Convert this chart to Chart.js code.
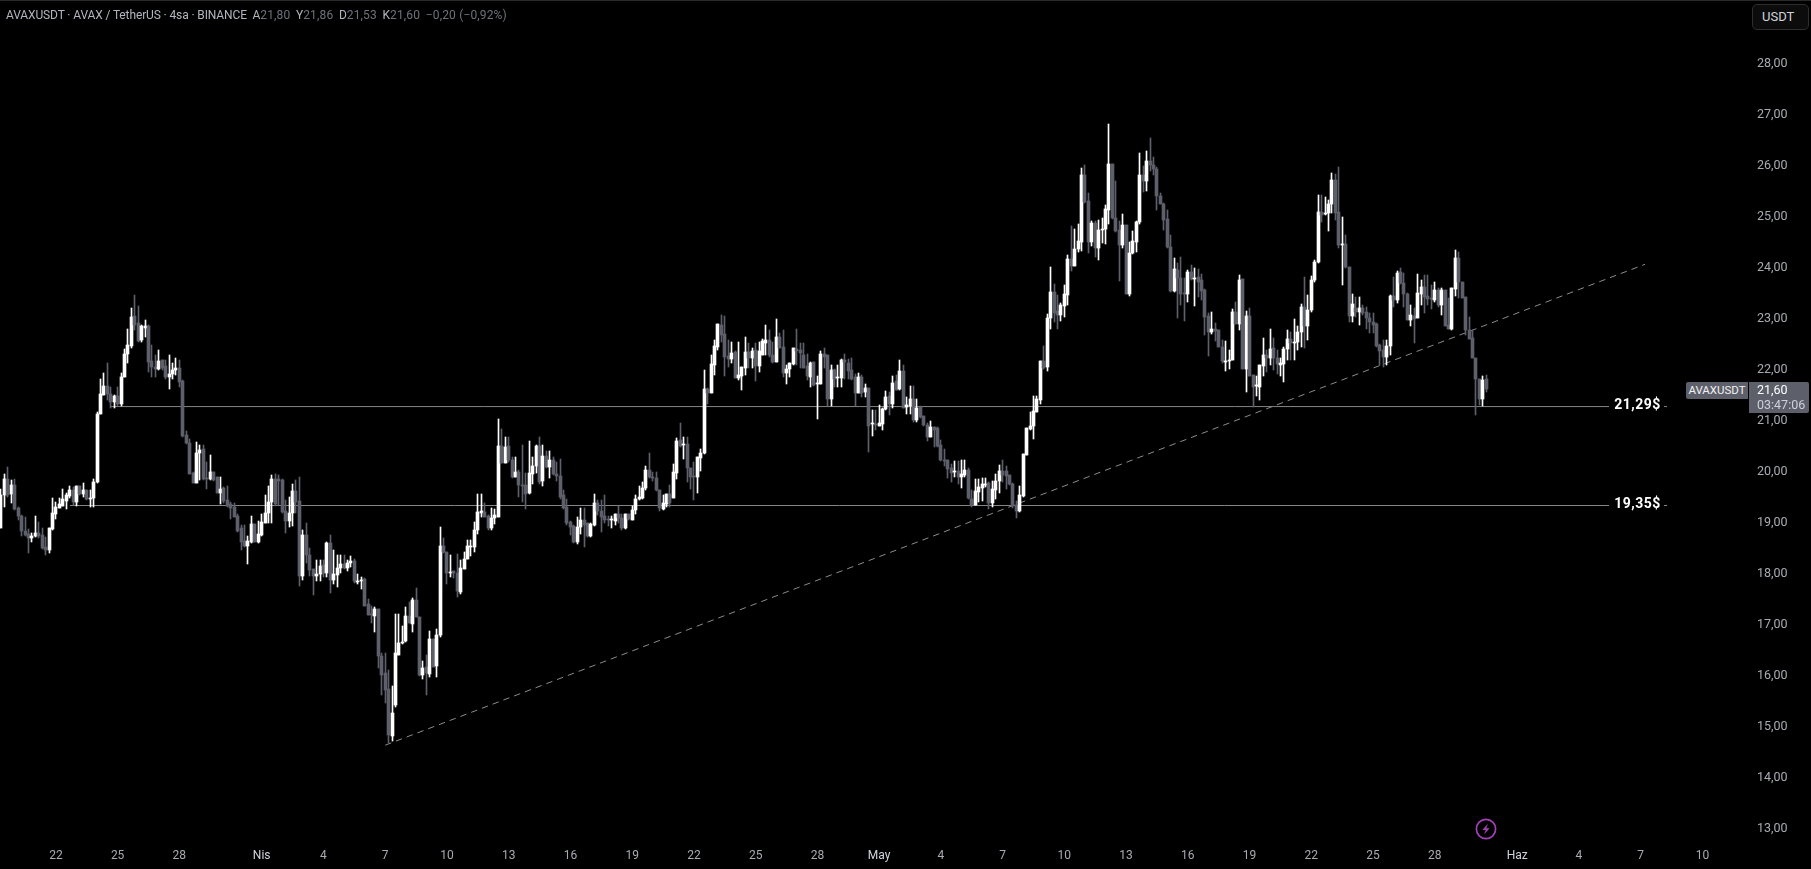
<!DOCTYPE html>
<html><head><meta charset="utf-8"><title>AVAXUSDT</title>
<script src="https://cdn.jsdelivr.net/npm/chart.js@4"></script>
<style>
html,body{margin:0;padding:0;background:#000;width:1811px;height:869px;overflow:hidden;font-family:Roboto,"Open Sans",sans-serif}
#c{position:absolute;left:0;top:0}
.o{position:absolute;white-space:nowrap;box-sizing:border-box}
#topline{left:0;top:0;width:1811px;height:1px;background:#2a2a2a}
#hdr{left:6px;top:7px;font-size:12px;line-height:16px;color:#b2b5be;letter-spacing:-.12px}
#hdr i{font-style:normal;color:#6f727c;letter-spacing:.15px}
#unit{left:1752px;top:4px;width:57px;height:26px;border:1px solid #2e2e2e;border-radius:5px;background:#0c0c0c;color:#d1d4dc;font-size:13px;line-height:24px;padding-left:9px}
#sym{left:1686px;top:382px;width:62px;height:17px;background:#5d606b;color:#f0f0f0;font-size:11.5px;line-height:17px;text-align:center;border-radius:2px 0 0 2px}
#px{left:1749px;top:382px;width:60px;height:31px;background:#5d606b;border-radius:0 2px 2px 0;color:#fff;font-size:12.5px;line-height:15px;padding:0 0 0 8px}
#px span{display:block;color:#cfd1d8;font-size:12.5px}
#bolt{left:1475px;top:818px;width:22px;height:22px}
</style></head><body>
<canvas id="c" width="1811" height="869"></canvas>
<div id="topline" class="o"></div>
<div id="hdr" class="o">AVAXUSDT · AVAX / TetherUS · 4sa · BINANCE &nbsp;A<i>21,80</i> &nbsp;Y<i>21,86</i> &nbsp;D<i>21,53</i> &nbsp;K<i>21,60</i> &nbsp;<i>−0,20 (−0,92%)</i></div>
<div id="unit" class="o">USDT</div>
<div id="sym" class="o">AVAXUSDT</div>
<div id="px" class="o">21,60<span>03:47:06</span></div>
<svg id="bolt" class="o" viewBox="0 0 22 22"><circle cx="11" cy="11" r="9.6" fill="none" stroke="#a63fba" stroke-width="1.7"/><path d="M12.9 5.6 7.4 12h3.3l-1.6 4.6 5.5-6.4h-3.3z" fill="#a63fba"/></svg>
<script>
const opens=[18.87,19.51,19.82,19.53,19.71,19.26,19.10,18.81,18.75,18.68,
18.72,18.77,18.73,18.50,18.44,18.84,19.15,19.27,19.31,19.40,
19.50,19.62,19.37,19.69,19.53,19.61,19.44,19.46,19.78,21.10,
21.47,21.66,21.49,21.34,21.46,21.30,21.82,22.29,22.44,23.02,
22.88,22.55,22.80,22.83,22.14,22.02,21.99,22.16,22.04,21.83,
21.89,21.97,22.00,21.75,20.69,20.53,19.95,19.76,20.33,20.42,
19.83,19.82,19.97,19.86,19.55,19.65,19.42,19.34,19.29,19.10,
18.86,18.61,18.51,18.60,18.95,18.60,18.73,18.97,19.17,19.37,
19.83,19.83,19.81,19.20,19.01,19.17,19.59,19.40,17.93,18.74,
18.34,18.06,17.92,17.97,18.14,17.99,18.57,17.85,17.95,18.08,
18.16,18.08,18.18,18.22,17.81,17.82,17.86,17.37,17.18,17.15,
17.28,16.36,16.02,15.72,14.79,15.40,16.38,16.61,16.66,17.14,
16.99,17.46,17.13,15.99,16.15,16.01,16.70,16.16,16.77,18.51,
18.40,17.99,18.03,17.99,17.62,18.06,18.26,18.50,18.50,18.82,
19.17,19.19,19.10,18.86,19.06,19.09,20.48,20.15,20.48,20.21,
19.86,19.97,19.72,19.71,19.55,19.93,20.08,20.48,19.80,20.28,
20.07,20.21,19.93,19.89,19.52,19.29,18.99,18.91,18.60,18.88,
19.02,18.96,18.71,18.93,19.35,19.20,19.10,19.04,19.02,19.01,
19.15,19.06,18.86,19.14,19.02,19.22,19.43,19.46,19.65,20.00,
19.87,19.85,19.61,19.25,19.34,19.53,19.46,19.95,20.59,20.50,
20.51,20.05,19.87,19.87,20.25,20.34,21.59,21.51,22.06,22.42,
22.85,22.67,22.24,22.18,22.32,21.81,21.85,22.00,22.32,22.20,
22.36,22.05,22.27,22.49,22.55,22.27,22.13,22.62,22.41,21.91,
21.99,22.08,22.38,22.36,22.26,22.05,21.82,22.12,21.69,21.70,
22.28,22.26,21.40,21.97,21.81,21.81,22.16,22.11,21.97,21.82,
21.52,21.83,21.54,21.61,20.90,20.91,20.87,20.90,21.20,21.45,
21.30,21.75,21.60,21.95,21.25,21.26,21.40,20.99,21.25,21.06,
20.89,20.66,20.85,20.82,20.49,20.21,20.20,20.04,19.96,19.99,
19.86,19.91,20.00,19.44,19.32,19.57,19.66,19.71,19.75,19.36,
19.61,19.79,19.99,19.99,19.90,19.74,19.32,19.20,19.49,20.30,
20.81,20.87,21.15,21.38,22.15,22.03,22.98,23.50,23.12,23.04,
23.22,23.44,24.14,24.01,24.34,24.48,25.79,25.28,24.48,24.85,
24.35,24.71,24.74,25.10,26.00,24.94,24.71,24.42,24.81,23.46,
24.27,24.47,24.86,25.79,25.67,26.07,25.99,25.91,25.37,25.23,
24.92,24.37,23.52,23.93,23.77,23.48,23.46,23.88,23.76,23.79,
23.73,23.54,23.03,22.72,22.78,22.75,22.42,22.13,22.14,22.16,
23.11,22.87,23.75,21.99,23.03,21.86,21.65,21.64,22.04,22.26,
22.21,22.39,22.21,22.07,22.08,22.37,22.57,22.50,22.51,22.72,
23.20,22.82,23.14,23.74,24.09,25.06,25.02,25.04,25.22,25.70,
25.06,24.42,24.43,23.98,23.03,23.18,23.10,23.19,23.10,22.99,
22.91,22.87,22.46,22.36,22.23,22.44,23.42,23.33,23.88,23.67,
23.45,22.95,23.03,22.99,23.46,23.59,23.42,23.37,23.34,23.53,
23.24,23.53,22.85,22.77,23.55,24.16,23.70,23.39,22.76,22.59,
22.21,21.80,21.40,21.80];
const highs=[19.64,19.93,20.06,19.81,19.82,19.29,19.12,19.09,18.84,18.78,
19.10,18.98,18.86,18.70,18.87,19.45,19.38,19.45,19.63,19.55,
19.69,19.68,19.69,19.69,19.76,19.62,19.61,19.83,21.14,21.80,
21.90,22.10,21.64,21.48,21.64,21.90,22.37,22.78,23.19,23.44,
23.22,22.85,22.95,22.85,22.46,22.26,22.36,22.17,22.16,22.26,
22.10,22.21,22.16,21.77,20.77,20.61,19.97,20.56,20.50,20.50,
20.17,20.30,19.97,19.87,19.87,19.68,19.69,19.38,19.36,19.15,
18.93,18.93,18.71,19.10,18.95,19.01,19.15,19.51,19.69,19.91,
19.93,19.91,19.82,19.42,19.48,19.74,19.81,19.87,18.83,18.96,
18.47,18.06,18.24,18.24,18.24,18.60,18.74,18.44,18.34,18.34,
18.34,18.24,18.32,18.27,17.97,17.91,17.88,17.47,17.34,17.31,
17.29,16.41,16.41,16.08,15.77,17.18,17.19,16.95,17.31,17.42,
17.49,17.70,17.13,16.26,16.38,16.84,16.70,16.88,18.89,18.67,
18.40,18.34,18.03,18.36,18.24,18.39,18.63,18.63,18.99,19.54,
19.54,19.35,19.12,19.27,19.25,21.01,20.81,20.66,20.65,20.27,
20.27,20.00,20.50,19.94,20.57,20.27,20.50,20.65,20.50,20.37,
20.37,20.27,20.17,20.23,19.61,19.43,19.01,18.93,19.08,19.27,
19.27,18.97,18.96,19.54,19.42,19.42,19.51,19.10,19.10,19.15,
19.30,19.15,19.14,19.14,19.30,19.51,19.70,19.77,20.08,20.33,
19.97,19.96,19.61,19.51,19.53,19.71,20.12,20.63,20.92,20.66,
20.66,20.05,20.17,20.27,20.41,21.97,21.62,22.27,22.55,22.87,
23.04,23.02,22.55,22.52,22.33,22.52,22.03,22.61,22.49,22.39,
22.50,22.52,22.57,22.85,22.75,22.52,22.97,22.69,22.75,22.06,
22.10,22.40,22.77,22.49,22.49,22.29,22.13,22.12,21.85,22.33,
22.39,22.26,22.07,21.98,22.07,22.18,22.28,22.18,22.21,21.89,
21.90,21.87,21.70,21.62,21.18,21.18,21.28,21.23,21.56,21.54,
21.85,21.87,22.17,22.07,21.44,21.65,21.65,21.39,21.26,21.06,
20.92,20.97,20.85,20.84,20.59,20.41,20.21,20.12,20.19,20.19,
20.21,20.21,20.05,19.61,19.82,19.82,19.84,19.84,19.77,19.80,
19.92,20.10,20.21,20.08,19.90,19.76,19.40,19.69,20.32,20.82,
21.15,21.46,21.46,22.15,22.44,23.07,23.98,23.65,23.44,23.28,
23.63,24.22,24.79,24.74,24.83,25.93,25.98,25.43,24.89,24.89,
24.91,24.94,25.20,26.80,26.00,25.67,24.88,25.02,24.81,24.48,
24.70,24.89,26.23,25.97,26.26,26.52,26.14,25.95,25.43,25.25,
25.10,24.61,24.16,24.07,24.18,23.77,23.93,24.03,23.96,23.94,
23.85,23.55,23.08,23.10,22.88,22.75,22.55,22.54,22.36,23.16,
23.30,23.83,23.76,23.12,23.18,21.86,21.84,22.06,22.59,22.36,
22.78,22.59,22.36,22.20,22.42,22.75,22.72,22.97,22.82,23.26,
23.80,23.44,23.81,24.12,25.40,25.40,25.36,25.30,25.82,25.81,
25.94,24.96,24.61,23.99,23.45,23.40,23.40,23.24,23.21,23.08,
23.09,22.89,22.48,22.55,22.55,23.44,23.80,23.91,23.96,23.86,
23.47,23.24,23.18,23.85,23.73,23.83,23.83,23.63,23.70,23.57,
23.57,23.53,23.37,23.58,24.32,24.29,23.70,23.39,23.01,22.75,
22.21,21.80,21.85,21.86];
const lows=[18.87,19.29,19.48,19.36,19.22,19.02,18.71,18.71,18.38,18.60,
18.70,18.68,18.45,18.34,18.38,18.83,19.05,19.26,19.30,19.25,
19.45,19.32,19.30,19.51,19.48,19.42,19.29,19.29,19.76,21.10,
21.47,21.38,21.23,21.22,21.27,21.26,21.82,22.11,22.40,22.75,
22.52,22.51,22.61,21.93,21.82,21.82,21.96,21.96,21.80,21.59,
21.80,21.87,21.64,20.66,20.51,19.93,19.75,19.76,19.81,19.81,
19.63,19.81,19.80,19.55,19.34,19.35,19.29,19.04,19.08,18.80,
18.44,18.50,18.17,18.58,18.60,18.58,18.71,18.96,18.96,18.96,
19.30,19.32,19.16,18.78,18.89,18.91,19.16,17.74,17.85,18.18,
17.92,17.56,17.82,17.83,17.91,17.91,17.60,17.78,17.72,17.98,
18.06,18.03,18.11,17.80,17.78,17.67,17.33,17.16,17.00,16.82,
16.12,15.60,15.43,14.65,14.70,15.35,16.38,16.60,16.64,17.00,
16.82,17.13,15.97,15.90,15.60,15.95,16.14,15.94,16.73,18.37,
17.78,17.91,17.88,17.52,17.57,18.06,18.26,18.31,18.39,18.76,
19.09,19.08,18.83,18.83,18.95,19.08,20.14,20.14,20.17,19.84,
19.86,19.48,19.38,19.25,19.53,19.74,19.94,19.74,19.69,20.04,
19.84,19.91,19.79,19.44,19.25,18.93,18.73,18.58,18.55,18.76,
18.49,18.70,18.69,18.91,19.12,18.80,18.97,18.90,18.87,18.93,
18.97,18.83,18.85,19.02,19.02,19.14,19.42,19.44,19.61,19.84,
19.79,19.60,19.20,19.23,19.29,19.29,19.46,19.83,20.46,20.22,
19.78,19.64,19.42,19.56,19.99,20.32,21.30,21.51,21.87,22.36,
22.52,21.85,22.03,22.10,21.81,21.77,21.57,21.87,22.00,22.00,
21.76,21.93,22.26,22.26,22.23,22.10,22.12,22.39,21.83,21.69,
21.82,22.06,22.06,22.00,22.00,21.77,21.64,21.66,21.00,21.69,
22.00,21.26,21.26,21.63,21.63,21.63,21.80,21.80,21.78,21.26,
21.51,21.43,21.44,20.35,20.67,20.79,20.87,20.79,21.18,21.08,
21.23,21.57,21.57,21.22,21.10,21.10,20.95,20.95,21.02,20.87,
20.57,20.65,20.46,20.46,20.19,20.08,19.84,19.78,19.86,19.73,
19.66,19.86,19.43,19.29,19.32,19.38,19.40,19.68,19.25,19.29,
19.43,19.55,19.78,19.64,19.71,19.27,19.07,19.19,19.48,20.30,
20.80,20.62,21.15,21.30,21.98,21.94,22.78,22.90,22.78,22.93,
23.00,23.24,23.90,24.00,24.29,24.31,25.25,24.27,24.40,24.18,
24.12,24.45,24.43,24.83,24.92,24.68,23.72,24.35,23.46,23.42,
24.25,24.29,24.83,25.46,25.48,25.87,25.79,25.10,25.22,24.72,
24.35,23.50,23.50,22.98,23.24,22.92,23.30,23.73,23.22,23.40,
23.34,22.65,22.24,22.67,22.54,22.41,22.10,21.95,21.99,22.16,
22.87,22.76,21.99,21.54,21.84,21.25,21.46,21.38,21.84,21.93,
22.06,21.97,21.89,21.84,21.74,22.16,22.16,22.16,22.35,22.42,
22.39,22.55,23.11,23.70,24.06,24.87,25.00,24.69,25.04,24.91,
24.35,23.63,23.96,22.90,22.91,23.01,22.85,23.04,22.78,22.69,
22.69,22.42,22.06,22.03,22.06,22.27,23.21,23.29,23.65,23.21,
22.95,22.82,22.49,22.99,23.24,23.09,23.24,23.16,23.30,23.21,
23.04,22.82,22.77,22.75,23.42,23.37,23.37,22.65,22.57,22.20,
21.08,21.28,21.26,21.53];
const closes=[19.51,19.83,19.51,19.71,19.25,19.10,18.81,18.73,18.68,18.72,
18.77,18.71,18.48,18.44,18.87,19.16,19.29,19.34,19.44,19.51,
19.61,19.37,19.69,19.53,19.61,19.44,19.46,19.78,21.10,21.49,
21.65,21.49,21.34,21.46,21.30,21.82,22.29,22.46,23.01,22.85,
22.53,22.83,22.83,22.13,22.02,21.99,22.14,22.01,21.83,21.89,
21.97,22.00,21.74,20.67,20.53,19.93,19.76,20.33,20.40,19.83,
19.82,19.97,19.81,19.56,19.63,19.39,19.30,19.27,19.09,18.81,
18.60,18.51,18.61,18.95,18.60,18.75,18.99,19.17,19.37,19.83,
19.34,19.80,19.19,19.01,19.17,19.59,19.38,17.93,18.73,18.34,
18.05,17.92,17.97,18.12,17.98,18.58,17.85,17.96,18.09,18.16,
18.08,18.18,18.22,17.82,17.82,17.85,17.34,17.16,17.16,17.28,
16.36,15.99,15.69,14.81,15.24,16.41,16.61,16.64,17.14,17.01,
17.46,17.13,15.99,16.13,16.02,16.69,16.15,16.78,18.51,18.39,
17.99,18.00,17.98,17.64,18.08,18.27,18.51,18.51,18.83,19.19,
19.20,19.09,18.86,19.07,19.12,20.48,20.15,20.46,20.20,19.86,
19.97,19.71,19.70,19.53,19.94,20.08,20.48,19.78,20.28,20.07,
20.21,19.93,19.88,19.48,19.27,18.96,18.89,18.60,18.88,19.02,
18.93,18.71,18.95,19.35,19.21,19.09,19.03,19.03,19.03,19.15,
19.06,18.86,19.14,19.04,19.22,19.43,19.48,19.66,20.00,19.86,
19.85,19.61,19.26,19.35,19.53,19.35,19.96,20.58,20.48,20.51,
20.05,19.87,19.86,20.27,20.34,21.59,21.51,22.08,22.44,22.86,
22.65,22.23,22.18,22.31,21.81,21.87,22.02,22.32,22.20,22.33,
22.05,22.33,22.54,22.55,22.26,22.12,22.62,22.40,21.91,21.99,
22.10,22.40,22.33,22.30,22.00,21.85,22.10,21.67,21.71,22.28,
22.22,21.40,21.97,21.80,21.82,22.16,22.12,21.95,21.80,21.52,
21.82,21.51,21.61,20.87,20.91,20.88,20.92,21.21,21.44,21.30,
21.72,21.58,21.95,21.22,21.28,21.40,20.99,21.23,21.04,20.89,
20.66,20.84,20.79,20.47,20.20,20.19,20.02,19.95,19.97,19.87,
19.92,20.00,19.45,19.32,19.59,19.68,19.73,19.74,19.36,19.63,
19.79,19.99,19.90,19.89,19.73,19.30,19.20,19.51,20.32,20.82,
20.87,21.16,21.39,22.15,22.00,22.98,23.50,23.08,23.04,23.24,
23.45,24.14,24.01,24.34,24.50,25.79,25.27,24.48,24.84,24.35,
24.72,24.74,25.12,26.00,24.94,24.70,24.42,24.81,23.46,24.27,
24.50,24.87,25.79,25.67,26.07,25.99,25.90,25.37,25.23,24.91,
24.37,23.52,23.94,23.77,23.46,23.46,23.89,23.75,23.78,23.70,
23.52,23.01,22.72,22.78,22.74,22.42,22.14,22.15,22.16,23.11,
22.87,23.73,21.99,23.03,21.85,21.64,21.68,22.06,22.26,22.21,
22.37,22.20,22.08,22.10,22.37,22.57,22.49,22.52,22.72,23.20,
22.83,23.14,23.74,24.09,25.06,25.00,25.04,25.23,25.70,25.05,
24.42,24.43,23.98,23.03,23.26,23.10,23.19,23.09,22.99,22.91,
22.85,22.44,22.34,22.23,22.44,23.42,23.33,23.87,23.67,23.45,
22.95,23.04,22.97,23.47,23.59,23.40,23.36,23.36,23.53,23.24,
23.53,22.82,22.77,23.58,24.16,23.69,23.38,22.75,22.58,22.20,
21.80,21.40,21.77,21.60];

const xTickIndex=[16,34,52,76,94,112,130,148,166,184,202,220,238,256,274,292,310,328,346,364,382,400,418,442,460,478,496];
const xTickLabels=['22','25','28','Nis','4','7','10','13','16','19','22','25','28','May','4','7','10','13','16','19','22','25','28','Haz','4','7','10'];
const xMonthLabels=['Nis','May','Haz'];
const priceTicks=[13,14,15,16,17,18,19,20,21,22,23,24,25,26,27,28];
const levelValues=[21.25,19.31];
const levelNames=['21,29$','19,35$'];
const levelStartIndex=[31.8,20.1];
const levelEndIndex=468.8;
const levelTextIndex=470.3;
const levelStubIndex=[484.8,485.7];
const trendIndex=[112,479.3];
const trendPrices=[14.61,24.04];

const UP='#ffffff',DOWN='#5d606b',indices=opens.map((_,i)=>i);
const barColors=indices.map(i=>closes[i]>=opens[i]?UP:DOWN);
const lineSet=(data,color,extra)=>Object.assign({type:'line',data,borderColor:color,borderWidth:1,pointRadius:0,fill:false,tension:0,order:3},extra||{});
const datasets=[
  {type:'bar',label:'wick',data:indices.map(i=>({x:i,y:[lows[i],highs[i]]})),backgroundColor:barColors,grouped:false,barPercentage:1,categoryPercentage:1,maxBarThickness:1,order:2,minBarLength:1},
  {type:'bar',label:'body',data:indices.map(i=>({x:i,y:[opens[i],closes[i]]})),backgroundColor:barColors,grouped:false,barPercentage:1,categoryPercentage:1,maxBarThickness:3,order:1,minBarLength:1},
  lineSet(trendIndex.map((x,i)=>({x,y:trendPrices[i]})),'#8c8c8c',{borderDash:[6.5,5]})
];
levelValues.forEach((v,i)=>{
  datasets.push(lineSet([{x:levelStartIndex[i],y:v},{x:levelEndIndex,y:v}],'#858585'));
  datasets.push(lineSet(levelStubIndex.map(x=>({x,y:v})),'#858585'));
});

const snap={id:'snap',beforeDraw(ch){
  ch.scales.y.getLabelItems().forEach(it=>{if(!it.nudged){it.textOffset+=1.3;it.nudged=true;}});
},beforeDatasetsDraw(ch){
  ch.getSortedVisibleDatasetMetas().forEach(m=>{
    if(m.type!=='bar')return;
    m.data.forEach(el=>{
      el.x=Math.floor(el.x)+0.5;
      el.y=Math.round(el.y);el.base=Math.round(el.base);
      if(el.y===el.base)el.base=el.y+1;
    });
  });
}};
const levelText={id:'levelText',afterDatasetsDraw(ch){
  const c=ch.ctx,xs=ch.scales.x,ys=ch.scales.y;
  c.save();c.font='bold 14px Roboto, sans-serif';c.fillStyle='#ffffff';c.textBaseline='middle';c.textAlign='left';
  if('letterSpacing' in c)c.letterSpacing='0.5px';
  levelValues.forEach((v,i)=>c.fillText(levelNames[i],xs.getPixelForValue(levelTextIndex),ys.getPixelForValue(v)-1));
  c.restore();
}};

new Chart(document.getElementById('c'),{
  type:'bar',
  data:{datasets},
  plugins:[snap,levelText],
  options:{
    responsive:false,animation:false,devicePixelRatio:1,
    layout:{padding:0},
    plugins:{legend:{display:false},tooltip:{enabled:false}},
    events:[],
    scales:{
      x:{type:'linear',offset:false,min:-0.29,max:509.3,
        grid:{display:false,drawTicks:false,offset:false},border:{display:false},
        afterBuildTicks(s){s.ticks=xTickIndex.map(value=>({value}));},
        afterFit(s){s.height=24;s.paddingLeft=0;s.paddingRight=0;},
        ticks:{autoSkip:false,maxRotation:0,padding:4,font:{family:'Roboto, sans-serif',size:12},
          color:c=>xMonthLabels.includes(xTickLabels[c.index])?'#d1d4dc':'#a9abb3',
          callback:(v,i)=>xTickLabels[i]}
      },
      y:{type:'linear',position:'right',min:12.653,max:29.222,
        grid:{display:false,drawTicks:false},border:{display:false},
        afterBuildTicks(s){s.ticks=priceTicks.map(value=>({value}));},
        afterFit(s){s.width=63;s.paddingTop=0;s.paddingBottom=0;},
        ticks:{autoSkip:false,padding:9,font:{family:'Roboto, sans-serif',size:12.5},color:'#a9abb3',
          callback:v=>v.toFixed(2).replace('.',',')}
      }
    }
  }
});
</script>
</body></html>
